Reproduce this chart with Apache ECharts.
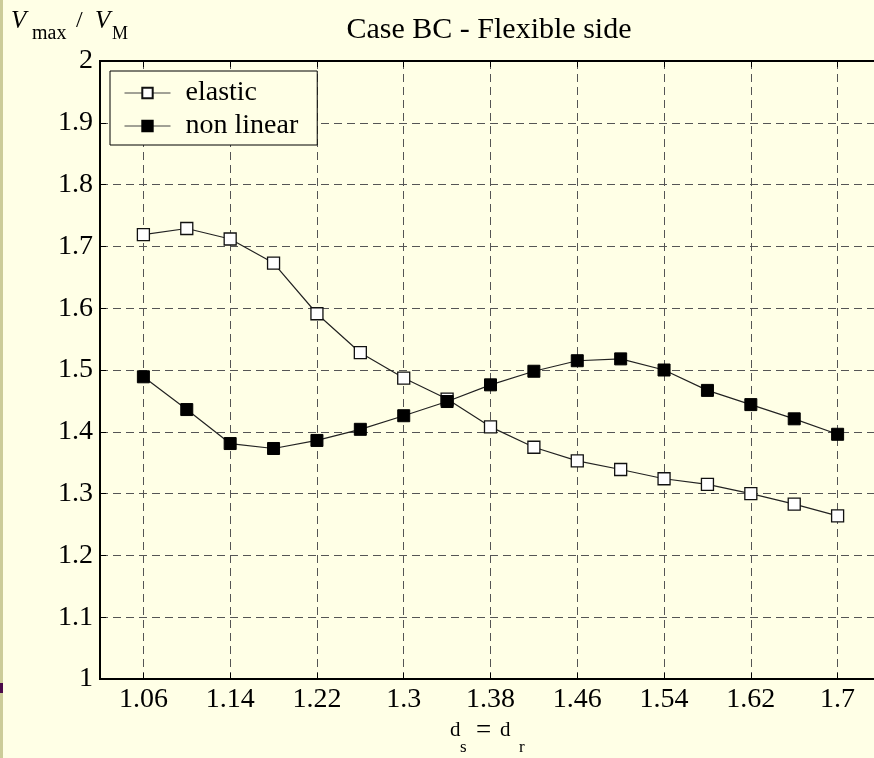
<!DOCTYPE html>
<html>
<head>
<meta charset="utf-8">
<script src="https://cdn.jsdelivr.net/npm/echarts@6/dist/echarts.min.js"></script>
<style>
  html, body { margin: 0; padding: 0; background: #ffffe6; }
  #chart { width: 874px; height: 758px; }
</style>
</head>
<body>
<div id="chart"></div>
<script>
// d_s = d_r values along the horizontal axis
const spacing = [1.06, 1.10, 1.14, 1.18, 1.22, 1.26, 1.30, 1.34, 1.38, 1.42, 1.46, 1.50, 1.54, 1.58, 1.62, 1.66, 1.70];
// V_max / V_M for each analysis type
const elastic = [1.719, 1.729, 1.712, 1.673, 1.591, 1.528, 1.487, 1.453, 1.408, 1.375, 1.353, 1.339, 1.324, 1.315, 1.300, 1.283, 1.264];
const nonLinear = [1.489, 1.436, 1.381, 1.373, 1.386, 1.404, 1.426, 1.449, 1.476, 1.498, 1.515, 1.518, 1.500, 1.467, 1.444, 1.421, 1.396];
// labelled ticks on the horizontal axis
const xTicks = [1.06, 1.14, 1.22, 1.30, 1.38, 1.46, 1.54, 1.62, 1.70];

const FONT = 'Liberation Serif, Times New Roman, serif';
const chart = echarts.init(document.getElementById('chart'), null, { renderer: 'canvas' });

const pairs = vals => spacing.map((x, i) => [x, vals[i]]);
const gridLine = { show: true, lineStyle: { color: '#555', width: 1, type: [8, 5] } };

function txt(text, x, y, size, opts) {
  return {
    type: 'text', x: x, y: y, silent: true,
    style: Object.assign({
      text: text, fill: '#000', fontFamily: FONT, fontSize: size,
      align: 'left', verticalAlign: 'middle'
    }, opts || {})
  };
}

chart.setOption({
  backgroundColor: '#ffffe6',
  animation: false,
  grid: {
    left: 100, top: 61, width: 781, height: 618,
    outerBoundsMode: 'none',
    show: true, borderColor: '#000', borderWidth: 2, backgroundColor: 'transparent'
  },
  legend: {
    orient: 'vertical', left: 110, top: 71,
    padding: [8, 19, 5, 14],
    itemGap: 5, itemWidth: 46, itemHeight: 13,
    borderColor: '#000', borderWidth: 1, backgroundColor: '#ffffe6',
    lineStyle: { color: '#444', width: 1 },
    textStyle: { fontFamily: FONT, fontSize: 28, color: '#000', padding: [0, 0, 0, 10] },
    data: ['elastic', 'non linear']
  },
  xAxis: [{
    type: 'value', min: 1.02, max: 1.74, position: 'bottom',
    axisLine: { show: true, onZero: false, lineStyle: { color: '#000', width: 2 } },
    axisTick: { show: true, inside: true, length: 6, customValues: xTicks, lineStyle: { color: '#000', width: 1 } },
    axisLabel: { customValues: xTicks, margin: 7, fontFamily: FONT, fontSize: 28, color: '#000' },
    splitLine: gridLine
  }, {
    type: 'value', min: 1.02, max: 1.74, position: 'top',
    axisLine: { show: true, onZero: false, lineStyle: { color: '#000', width: 2 } },
    axisTick: { show: true, inside: true, length: 6, customValues: xTicks, lineStyle: { color: '#000', width: 1 } },
    axisLabel: { show: false },
    splitLine: { show: false }
  }],
  yAxis: {
    type: 'value', min: 1, max: 2, interval: 0.1,
    axisLine: { show: true, onZero: false, lineStyle: { color: '#000', width: 2 } },
    axisTick: { show: true, inside: true, length: 6, lineStyle: { color: '#000', width: 1 } },
    axisLabel: { margin: 7, fontFamily: FONT, fontSize: 28, color: '#000' },
    splitLine: gridLine
  },
  series: [{
    name: 'elastic', type: 'line', data: pairs(elastic),
    symbol: 'rect', symbolSize: 12, showAllSymbol: true,
    lineStyle: { color: '#222', width: 1.2 },
    itemStyle: { color: '#ffffff', borderColor: '#111', borderWidth: 1.3 },
    emphasis: { disabled: true }
  }, {
    name: 'non linear', type: 'line', data: pairs(nonLinear),
    symbol: 'rect', symbolSize: 12, showAllSymbol: true,
    lineStyle: { color: '#222', width: 1.2 },
    itemStyle: { color: '#000000', borderColor: '#000', borderWidth: 1 },
    emphasis: { disabled: true }
  }],
  graphic: [
    // slide edge strip
    { type: 'rect', shape: { x: 0, y: 0, width: 3, height: 758 }, style: { fill: '#cccc99' }, silent: true },
    { type: 'rect', shape: { x: 0, y: 683, width: 3, height: 10 }, style: { fill: '#4a0a4a' }, silent: true },
    // title
    txt('Case BC - Flexible side', 489, 30, 30, { align: 'center' }),
    // vertical axis name: V_max / V_M
    txt('V', 11, 21, 25, { fontStyle: 'italic' }),
    txt('max', 32, 34, 20),
    txt('/', 76, 21, 24),
    txt('V', 95, 21, 25, { fontStyle: 'italic' }),
    txt('M', 112, 34, 18),
    // horizontal axis name: d_s = d_r
    txt('d', 450, 730, 21),
    txt('s', 460, 748, 17),
    txt('=', 476, 731, 27),
    txt('d', 500, 730, 21),
    txt('r', 519, 748, 17)
  ]
});
</script>
</body>
</html>
